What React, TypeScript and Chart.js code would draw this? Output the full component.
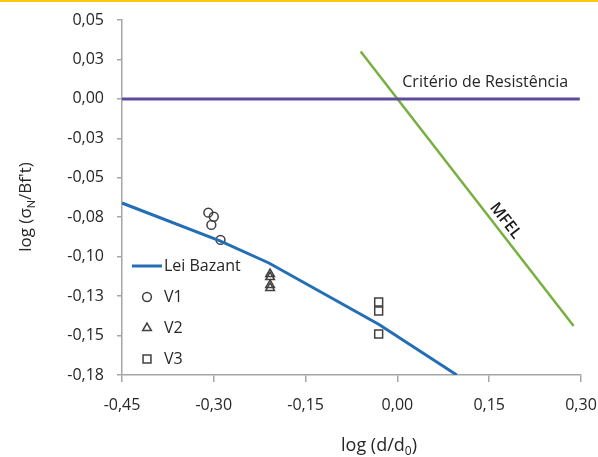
import React, { useEffect, useRef } from "react";
import { Chart, registerables } from "chart.js";

Chart.register(...registerables);

// ---- Data ----
const xTickValues = [-0.45, -0.3, -0.15, 0.0, 0.15, 0.3];
const xTickLabels = ["-0,45", "-0,30", "-0,15", "0,00", "0,15", "0,30"];
const yTickValues = [-0.175, -0.15, -0.125, -0.1, -0.075, -0.05, -0.025, 0, 0.025, 0.05];
const yTickLabels = ["-0,18", "-0,15", "-0,13", "-0,10", "-0,08", "-0,05", "-0,03", "0,00", "0,03", "0,05"];

const criterioX = [-0.45, 0.298];
const criterioY = [0, 0];
const mfelX = [-0.06, 0.288];
const mfelY = [0.03, -0.144];
const bazantX = [-0.45, -0.29, -0.21, -0.03, 0.097];
const bazantY = [-0.066, -0.09, -0.104, -0.143, -0.175];
const v1X = [-0.309, -0.3, -0.304, -0.289];
const v1Y = [-0.0721, -0.0747, -0.0799, -0.0894];
const v2X = [-0.208, -0.208, -0.208, -0.208];
const v2Y = [-0.111, -0.1129, -0.1179, -0.1198];
const v3X = [-0.0306, -0.0306, -0.0306];
const v3Y = [-0.1287, -0.1344, -0.149];

const seriesNames = ["Critério de Resistência", "MFEL", "Lei Bazant", "V1", "V2", "V3"];

const FONT = "'Open Sans', sans-serif";
const TEXT = "#262626";
const AXIS = "#A6A6A6";
const PURPLE = "#5F4B9B";
const GREEN = "#78AF41";
const BLUE = "#236EB4";
const MARK = "#404040";

const pts = (xs: number[], ys: number[]) => xs.map((x, i) => ({ x, y: ys[i] }));

type Seg = { t: string; sub?: boolean };

function drawRich(ctx: CanvasRenderingContext2D, segs: Seg[], cx: number, cy: number, size: number) {
  const subSize = Math.round(size * 0.65);
  let total = 0;
  const widths = segs.map((s) => {
    ctx.font = `500 ${s.sub ? subSize : size}px ${FONT}`;
    const w = ctx.measureText(s.t).width;
    total += w;
    return w;
  });
  let x = cx - total / 2;
  ctx.textAlign = "left";
  ctx.textBaseline = "alphabetic";
  const base = cy + size * 0.35;
  segs.forEach((s, i) => {
    ctx.font = `500 ${s.sub ? subSize : size}px ${FONT}`;
    ctx.fillText(s.t, x, s.sub ? base + size * 0.22 : base);
    x += widths[i];
  });
}

function drawMarker(ctx: CanvasRenderingContext2D, style: string, x: number, y: number, r: number) {
  ctx.beginPath();
  if (style === "circle") {
    ctx.arc(x, y, r, 0, Math.PI * 2);
  } else if (style === "triangle") {
    for (let k = 0; k < 3; k++) {
      const a = (k * 2 * Math.PI) / 3;
      const px = x + Math.sin(a) * r;
      const py = y - Math.cos(a) * r;
      if (k === 0) ctx.moveTo(px, py);
      else ctx.lineTo(px, py);
    }
    ctx.closePath();
  } else {
    const s = Math.SQRT1_2 * r;
    ctx.rect(x - s, y - s, 2 * s, 2 * s);
  }
  ctx.stroke();
}

const decorPlugin = {
  id: "decor",
  afterDatasetsDraw(chart: any) {
    const ctx: CanvasRenderingContext2D = chart.ctx;
    const xs = chart.scales.x;
    const ys = chart.scales.y;
    const ca = chart.chartArea;
    ctx.save();
    ctx.fillStyle = TEXT;

    // Critério label
    ctx.font = `500 16px ${FONT}`;
    ctx.textAlign = "left";
    ctx.textBaseline = "middle";
    ctx.fillText(seriesNames[0], xs.getPixelForValue(0.008), ys.getPixelForValue(0) - 16);

    // MFEL label along the line
    const p0x = xs.getPixelForValue(mfelX[0]);
    const p0y = ys.getPixelForValue(mfelY[0]);
    const p1x = xs.getPixelForValue(mfelX[1]);
    const p1y = ys.getPixelForValue(mfelY[1]);
    const ang = Math.atan2(p1y - p0y, p1x - p0x);
    const t = 0.64;
    const mx = p0x + (p1x - p0x) * t + Math.sin(ang) * 10.5;
    const my = p0y + (p1y - p0y) * t - Math.cos(ang) * 10.5;
    ctx.save();
    ctx.translate(mx, my);
    ctx.rotate(ang);
    ctx.font = `600 16px ${FONT}`;
    ctx.textAlign = "center";
    ctx.textBaseline = "middle";
    ctx.fillStyle = "#1a1a1a";
    ctx.fillText(seriesNames[1], 0, 0);
    ctx.restore();

    // Legend
    const lx = ca.left + 10;
    const ly = ca.top + 246;
    const gap = 31;
    const legendSets = chart.data.datasets.filter((d: any) => d.inLegend);
    legendSets.forEach((d: any, i: number) => {
      const y = ly + i * gap;
      if (d.pointRadius === 0) {
        ctx.strokeStyle = d.borderColor;
        ctx.lineWidth = d.borderWidth;
        ctx.beginPath();
        ctx.moveTo(lx, y);
        ctx.lineTo(lx + 30, y);
        ctx.stroke();
      } else {
        ctx.strokeStyle = d.borderColor;
        ctx.lineWidth = d.borderWidth;
        drawMarker(ctx, d.pointStyle, lx + 15, y, d.pointRadius);
      }
      ctx.fillStyle = TEXT;
      ctx.font = `500 16px ${FONT}`;
      ctx.textAlign = "left";
      ctx.textBaseline = "middle";
      ctx.fillText(d.label, lx + 32, y);
    });

    // Axis titles
    ctx.fillStyle = TEXT;
    drawRich(ctx, [{ t: "log (d/d" }, { t: "0", sub: true }, { t: ")" }], 379, 445, 18);
    ctx.save();
    ctx.translate(25, 207);
    ctx.rotate(-Math.PI / 2);
    drawRich(ctx, [{ t: "log (σ" }, { t: "N", sub: true }, { t: "/Bf't)" }], 0, 0, 17);
    ctx.restore();

    ctx.restore();
  },
};

export default function App() {
  const ref = useRef<HTMLCanvasElement | null>(null);
  useEffect(() => {
    if (!ref.current) return;
    const chart = new Chart(ref.current, {
      type: "scatter",
      data: {
        datasets: [
          {
            label: seriesNames[0],
            data: pts(criterioX, criterioY),
            showLine: true,
            borderColor: PURPLE,
            borderWidth: 3,
            pointRadius: 0,
          },
          {
            label: seriesNames[1],
            data: pts(mfelX, mfelY),
            showLine: true,
            borderColor: GREEN,
            borderWidth: 2.5,
            pointRadius: 0,
          },
          {
            label: seriesNames[2],
            data: pts(bazantX, bazantY),
            showLine: true,
            borderColor: BLUE,
            borderWidth: 3,
            pointRadius: 0,
            inLegend: true,
          },
          {
            label: seriesNames[3],
            data: pts(v1X, v1Y),
            pointStyle: "circle",
            pointRadius: 4.4,
            borderColor: MARK,
            borderWidth: 1.5,
            backgroundColor: "rgba(0,0,0,0)",
            inLegend: true,
          },
          {
            label: seriesNames[4],
            data: pts(v2X, v2Y),
            pointStyle: "triangle",
            pointRadius: 5,
            borderColor: MARK,
            borderWidth: 1.5,
            backgroundColor: "rgba(0,0,0,0)",
            inLegend: true,
          },
          {
            label: seriesNames[5],
            data: pts(v3X, v3Y),
            pointStyle: "rect",
            pointRadius: 5.6,
            borderColor: MARK,
            borderWidth: 1.5,
            backgroundColor: "rgba(0,0,0,0)",
            inLegend: true,
          },
        ] as any,
      },
      options: {
        animation: false,
        responsive: false,
        devicePixelRatio: 1,
        layout: { padding: { top: 20, right: 17, left: 0, bottom: 0 } },
        plugins: { legend: { display: false }, tooltip: { enabled: false } },
        scales: {
          x: {
            type: "linear",
            min: -0.45,
            max: 0.3,
            afterFit: (s: any) => {
              s.height = 82;
              s.paddingLeft = 0;
              s.paddingRight = 0;
            },
            afterBuildTicks: (s: any) => {
              s.ticks = xTickValues.map((v) => ({ value: v }));
            },
            ticks: {
              callback: (_v: any, i: number) => xTickLabels[i],
              font: { family: FONT, size: 16, weight: 500 },
              color: TEXT,
              padding: 14,
              maxRotation: 0,
              autoSkip: false,
            },
            grid: { drawOnChartArea: false, drawTicks: true, tickLength: 7, color: AXIS, lineWidth: 1.5 },
            border: { display: true, color: AXIS, width: 1.5 },
          },
          y: {
            type: "linear",
            min: -0.175,
            max: 0.05,
            afterFit: (s: any) => {
              s.width = 122;
              s.paddingTop = 0;
              s.paddingBottom = 0;
            },
            afterBuildTicks: (s: any) => {
              s.ticks = yTickValues.map((v) => ({ value: v }));
            },
            ticks: {
              callback: (_v: any, i: number) => yTickLabels[i],
              font: { family: FONT, size: 16, weight: 500 },
              color: TEXT,
              padding: 13,
              autoSkip: false,
            },
            grid: { drawOnChartArea: false, drawTicks: true, tickLength: 5, color: AXIS, lineWidth: 1.5 },
            border: { display: true, color: AXIS, width: 1.5 },
          },
        },
      },
      plugins: [decorPlugin],
    });
    return () => chart.destroy();
  }, []);

  return (
    <div style={{ position: "fixed", left: 0, top: 0, width: 598, height: 457, background: "#fff" }}>
      <div style={{ position: "absolute", left: 0, top: 0, width: 598, height: 2, background: "#FFC80A" }} />
      <canvas ref={ref} width={598} height={457} style={{ position: "absolute", left: 0, top: 0 }} />
    </div>
  );
}
